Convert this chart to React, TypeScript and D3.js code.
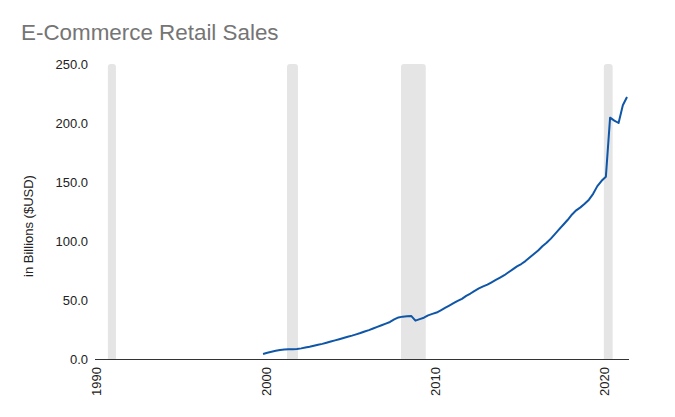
import React, { useEffect, useRef } from "react";
import * as d3 from "d3";

// quarter start dates, 1999 Q4 .. 2021 Q2
const quarters: string[] = [
  "1999-10",
  "2000-01", "2000-04", "2000-07", "2000-10",
  "2001-01", "2001-04", "2001-07", "2001-10",
  "2002-01", "2002-04", "2002-07", "2002-10",
  "2003-01", "2003-04", "2003-07", "2003-10",
  "2004-01", "2004-04", "2004-07", "2004-10",
  "2005-01", "2005-04", "2005-07", "2005-10",
  "2006-01", "2006-04", "2006-07", "2006-10",
  "2007-01", "2007-04", "2007-07", "2007-10",
  "2008-01", "2008-04", "2008-07", "2008-10",
  "2009-01", "2009-04", "2009-07", "2009-10",
  "2010-01", "2010-04", "2010-07", "2010-10",
  "2011-01", "2011-04", "2011-07", "2011-10",
  "2012-01", "2012-04", "2012-07", "2012-10",
  "2013-01", "2013-04", "2013-07", "2013-10",
  "2014-01", "2014-04", "2014-07", "2014-10",
  "2015-01", "2015-04", "2015-07", "2015-10",
  "2016-01", "2016-04", "2016-07", "2016-10",
  "2017-01", "2017-04", "2017-07", "2017-10",
  "2018-01", "2018-04", "2018-07", "2018-10",
  "2019-01", "2019-04", "2019-07", "2019-10",
  "2020-01", "2020-04", "2020-07", "2020-10",
  "2021-01", "2021-04",
];

// e-commerce sales, billions USD
const sales: number[] = [
  4.3,
  5.3, 6.2, 7.0, 7.6,
  8.0, 8.2, 8.2, 8.5,
  9.0, 9.7, 10.4, 11.2,
  12.0, 12.8, 13.8, 14.8,
  15.8, 16.8, 17.8, 18.8,
  19.8, 20.9, 22.0, 23.3,
  24.5, 25.8, 27.2, 28.6,
  30.0, 31.4, 33.5, 35.2,
  35.9, 36.3, 36.5, 32.5,
  33.8, 35.0, 37.0, 38.2,
  39.4, 41.3, 43.3, 45.3,
  47.3, 49.2, 51.0, 53.5,
  55.5, 57.8, 59.8, 61.5,
  63.0, 65.0, 67.0, 69.0,
  71.0, 73.5, 76.0, 78.5,
  80.5, 83.0, 86.0, 89.0,
  92.0, 95.5, 98.5, 102.0,
  106.0, 110.0, 114.0, 118.0,
  122.5, 126.0, 128.5, 131.5,
  135.0, 140.0, 146.5, 151.0,
  154.5, 204.5, 202.0, 200.0,
  215.0, 222.0,
];

// recession periods (shaded bands)
const recessionStarts: string[] = ["1990-08-01", "2001-03-01", "2007-11-25", "2019-11-18"];
const recessionEnds: string[] = ["1991-01-22", "2001-10-23", "2009-05-12", "2020-05-26"];

const yTicks: number[] = [0, 50, 100, 150, 200, 250];
const xTickYears: number[] = [1990, 2000, 2010, 2020];

const FONT = "Arial, 'Liberation Sans', sans-serif";

const App: React.FC = () => {
  const svgRef = useRef<SVGSVGElement | null>(null);

  useEffect(() => {
    if (!svgRef.current) return;

    const width = 675;
    const height = 417;
    const left = 95;
    const right = 629;
    const top = 64;
    const bottom = 359;

    const parseQ = d3.timeParse("%Y-%m");
    const parseD = d3.timeParse("%Y-%m-%d");

    const x = d3
      .scaleTime()
      .domain([new Date(1989, 9, 27), new Date(2021, 4, 14)])
      .range([left, right]);
    const y = d3.scaleLinear().domain([0, 250]).range([bottom, top]);

    const svg = d3.select(svgRef.current);
    svg.selectAll("*").remove();
    svg.attr("width", width).attr("height", height);

    svg.append("rect").attr("width", width).attr("height", height).attr("fill", "#fff");

    // clip so the rounded band bottoms stay above the baseline
    svg
      .append("clipPath")
      .attr("id", "plot-clip")
      .append("rect")
      .attr("x", left)
      .attr("y", top - 2)
      .attr("width", right - left)
      .attr("height", bottom - top + 2);

    /* recession bands */
    svg
      .append("g")
      .attr("clip-path", "url(#plot-clip)")
      .selectAll("rect")
      .data(recessionStarts.map((s, i) => [parseD(s)!, parseD(recessionEnds[i])!]))
      .enter()
      .append("rect")
      .attr("x", (d) => x(d[0]))
      .attr("width", (d) => x(d[1]) - x(d[0]))
      .attr("y", y(250))
      .attr("height", bottom - y(250) + 6)
      .attr("rx", 3)
      .attr("fill", "#e5e5e5");

    /* title */
    svg
      .append("text")
      .attr("x", 21)
      .attr("y", 40)
      .attr("font-family", FONT)
      .attr("font-size", 22.4)
      .attr("fill", "#757575")
      .text("E-Commerce Retail Sales");

    /* y tick labels */
    svg
      .append("g")
      .selectAll("text")
      .data(yTicks)
      .enter()
      .append("text")
      .attr("x", 88)
      .attr("y", (d) => y(d))
      .attr("dy", "0.35em")
      .attr("text-anchor", "end")
      .attr("font-family", FONT)
      .attr("font-size", 13)
      .attr("fill", "#222")
      .text((d) => d.toFixed(1));

    /* y axis title */
    svg
      .append("text")
      .attr("transform", `translate(28,226) rotate(-90)`)
      .attr("dy", "0.35em")
      .attr("text-anchor", "middle")
      .attr("font-family", FONT)
      .attr("font-size", 13)
      .attr("fill", "#222")
      .text("in Billions ($USD)");

    /* x tick labels (rotated) */
    svg
      .append("g")
      .selectAll("text")
      .data(xTickYears)
      .enter()
      .append("text")
      .attr("transform", (d) => `translate(${x(new Date(d, 0, 1)) - 1.3},367) rotate(-90)`)
      .attr("dy", "0.35em")
      .attr("text-anchor", "end")
      .attr("font-family", FONT)
      .attr("font-size", 13)
      .attr("fill", "#222")
      .text((d) => String(d));

    /* series line */
    const points = quarters.map((q, i) => ({ date: parseQ(q)!, value: sales[i] }));
    const line = d3
      .line<{ date: Date; value: number }>()
      .x((d) => x(d.date))
      .y((d) => y(d.value));

    svg
      .append("path")
      .datum(points)
      .attr("d", line)
      .attr("fill", "none")
      .attr("stroke", "#0f56a8")
      .attr("stroke-width", 2)
      .attr("stroke-linejoin", "round");

    /* baseline */
    svg
      .append("line")
      .attr("x1", left)
      .attr("x2", right)
      .attr("y1", y(0) + 0.5)
      .attr("y2", y(0) + 0.5)
      .attr("stroke", "#333")
      .attr("stroke-width", 1);
  }, []);

  return <svg ref={svgRef} style={{ position: "absolute", left: 0, top: 0, display: "block" }} />;
};

export default App;
